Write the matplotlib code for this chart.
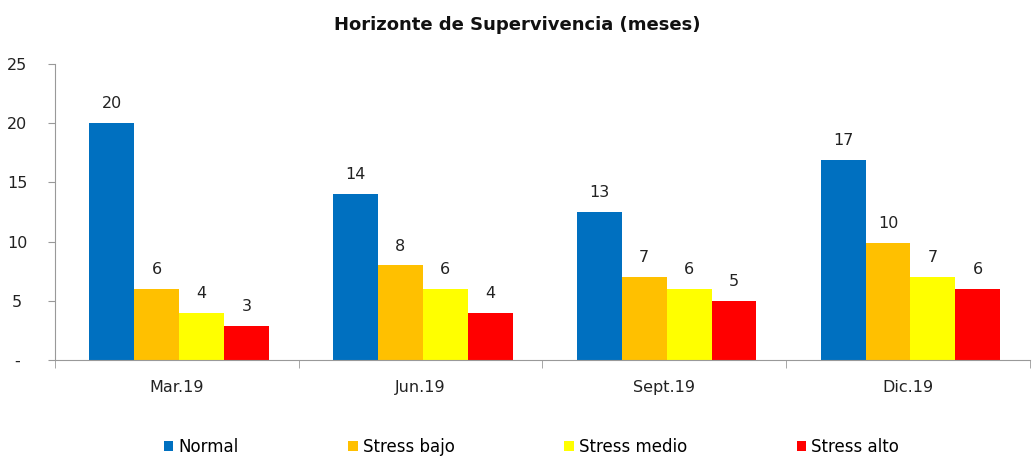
import matplotlib
matplotlib.use("Agg")
import matplotlib.pyplot as plt
import numpy as np
from matplotlib.patches import Patch

categories = ["Mar.19", "Jun.19", "Sept.19", "Dic.19"]
series_names = ["Normal", "Stress bajo", "Stress medio", "Stress alto"]
normal = [20, 14, 12.5, 16.9]
stress_bajo = [6, 8, 7, 9.9]
stress_medio = [4, 6, 6, 7]
stress_alto = [2.9, 4, 5, 6]
value_labels = [["20", "14", "13", "17"], ["6", "8", "7", "10"],
                ["4", "6", "6", "7"], ["3", "4", "5", "6"]]
colors = ["#0070C0", "#FFC000", "#FFFF00", "#FF0000"]
yticks = [0, 5, 10, 15, 20, 25]
ytick_labels = ["-", "5", "10", "15", "20", "25"]

plt.rcParams['font.family'] = ['DejaVu Sans']
fig = plt.figure(figsize=(10.34, 4.57), dpi=100)
ax = fig.add_axes([0.053, 0.212, 0.943, 0.648])

data = [normal, stress_bajo, stress_medio, stress_alto]
x = np.arange(len(categories))
w = 0.184
for i, (vals, c) in enumerate(zip(data, colors)):
    pos = x + (i - 1.5) * w + 0.01
    ax.bar(pos, vals, width=w, color=c, edgecolor='none')
    for p, v, lab in zip(pos, vals, value_labels[i]):
        ax.text(p, v + 1.0, lab, ha='center', va='bottom', fontsize=11.5, color='#222222')

ax.set_xlim(-0.5, len(categories) - 0.5)
ax.set_ylim(0, 25)
ax.set_yticks(yticks)
ax.set_yticklabels(ytick_labels, fontsize=11.5, color='#222222')
ax.set_xticks(x)
ax.set_xticklabels(categories, fontsize=11.5, color='#222222')
ax.set_xticks(np.arange(-0.5, len(categories)), minor=True)
ax.tick_params(axis='x', which='major', length=0, pad=14)
ax.tick_params(axis='x', which='minor', length=6, color='#999999', direction='out')
ax.tick_params(axis='y', length=5, color='#999999')
for t in ax.get_yticklabels():
    t.set_horizontalalignment('center')
ax.yaxis.set_tick_params(pad=22)
for s in ['top', 'right']:
    ax.spines[s].set_visible(False)
for s in ['left', 'bottom']:
    ax.spines[s].set_color('#999999')

fig.text(0.5, 0.945, "Horizonte de Supervivencia (meses)", ha='center', va='center',
         fontsize=13, fontweight='bold', color='#111111')

handles = [Patch(facecolor=c, edgecolor='none') for c in colors]
fig.legend(handles, series_names, loc='center', bbox_to_anchor=(0.514, 0.022), ncol=4,
           frameon=False, fontsize=12, handlelength=0.55, handleheight=0.55,
           handletextpad=0.3, columnspacing=6.6)

fig.savefig("out.png", dpi=100)
